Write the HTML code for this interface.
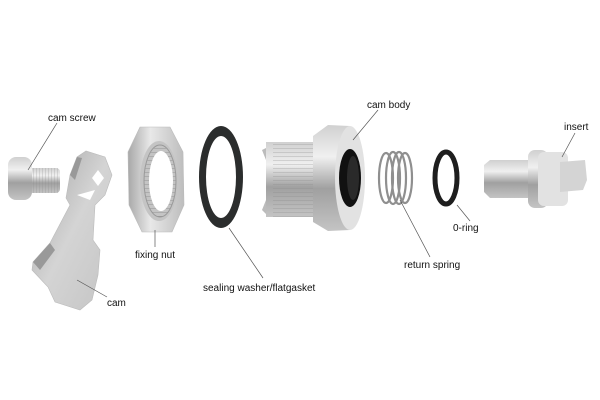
<!DOCTYPE html>
<html><head><style>
html,body{margin:0;padding:0;background:#fff;}
svg{display:block;}
text{font-family:"Liberation Sans",sans-serif;font-size:10px;fill:#111;}
</style></head><body>
<svg width="600" height="400" viewBox="0 0 600 400">
<defs>
<linearGradient id="m" x1="0" y1="0" x2="0" y2="1">
<stop offset="0" stop-color="#d0d0d0"/><stop offset="0.3" stop-color="#f0f0f0"/><stop offset="0.6" stop-color="#a0a0a0"/><stop offset="1" stop-color="#c4c4c4"/></linearGradient>
<linearGradient id="mh" x1="0" y1="0" x2="1" y2="0">
<stop offset="0" stop-color="#a8a8a8"/><stop offset="0.4" stop-color="#e8e8e8"/><stop offset="1" stop-color="#bdbdbd"/></linearGradient>
<linearGradient id="cam" x1="0" y1="0" x2="1" y2="1">
<stop offset="0" stop-color="#a0a0a0"/><stop offset="0.5" stop-color="#d4d4d4"/><stop offset="1" stop-color="#c4c4c4"/></linearGradient>
<pattern id="thr" width="3" height="4" patternUnits="userSpaceOnUse"><line x1="0" y1="0" x2="0" y2="4" stroke="#8a8a8a" stroke-width="0.8"/></pattern>
<pattern id="thh" width="4" height="4" patternUnits="userSpaceOnUse"><line x1="0" y1="0" x2="4" y2="0" stroke="#8a8a8a" stroke-width="0.8"/></pattern>
</defs>

<!-- cam screw -->
<rect x="22" y="168" width="38" height="25" rx="4" fill="url(#m)"/>
<rect x="28" y="168" width="30" height="25" fill="url(#thr)" opacity="0.6"/>
<rect x="8" y="157" width="24" height="43" rx="8" fill="url(#m)"/>

<!-- cam -->
<path d="M70,175 L77,157 L86,151 L105,157 L112,175 L105,195 L95,205 L93,240 L100,250 L98,275 L92,300 L80,310 L55,302 L48,287 L32,270 L33,262 L50,243 L70,205 L66,198 Z" fill="url(#cam)" stroke="#bbb" stroke-width="0.6"/>
<path d="M33,262 L50,243 L55,250 L40,270 Z" fill="#999"/>
<path d="M70,175 L77,157 L82,158 L75,180 Z" fill="#999"/>
<path d="M92,178 L98,170 L104,178 L98,186 Z" fill="#fff"/>
<path d="M77,195 L95,190 L90,200 Z" fill="#fff"/>

<!-- fixing nut -->
<path d="M140,127 L170,127 L183,152 L184,205 L172,232 L142,232 L129,205 L128,152 Z" fill="url(#mh)" stroke="#bbb" stroke-width="0.6"/>
<ellipse cx="159" cy="181" rx="19" ry="40" fill="#c4c4c4"/>
<ellipse cx="160" cy="181" rx="16" ry="36" fill="url(#thh)" stroke="#999"/>
<ellipse cx="161" cy="181" rx="12" ry="30" fill="#fff"/>

<!-- washer -->
<path fill-rule="evenodd" fill="#2b2d2d" d="M199,177 a22,51 0 1,0 44,0 a22,51 0 1,0 -44,0 Z M206,177 a15,41 0 1,0 30,0 a15,41 0 1,0 -30,0 Z"/>

<!-- cam body -->
<rect x="266" y="142" width="50" height="75" fill="url(#m)"/>
<rect x="273" y="142" width="42" height="75" fill="url(#thh)" opacity="0.7"/>
<path d="M266,148 L262,150 L266,160 Z M266,200 L262,210 L266,214 Z" fill="#bbb"/>
<path d="M313,136 L328,125 L350,126 L350,230 L328,231 L313,222 Z" fill="url(#m)"/>
<ellipse cx="350" cy="178" rx="15" ry="52" fill="#e2e2e2"/>
<ellipse cx="350" cy="178" rx="11" ry="29" fill="#111"/>
<ellipse cx="353" cy="178" rx="6" ry="22" fill="#444" opacity="0.5"/>

<!-- spring -->
<g fill="none" stroke="#8f8f8f" stroke-width="2.2">
<ellipse cx="386" cy="178" rx="7" ry="25"/>
<ellipse cx="393" cy="178" rx="7" ry="26"/>
<ellipse cx="399" cy="178" rx="7" ry="26"/>
<ellipse cx="405" cy="178" rx="7" ry="25"/>
</g>

<!-- o-ring -->
<ellipse cx="446" cy="178" rx="11" ry="26" fill="none" stroke="#1e1e1e" stroke-width="5"/>

<!-- insert -->
<path d="M484,165 L490,160 L535,160 L535,198 L490,198 L484,192 Z" fill="url(#m)"/>
<rect x="528" y="150" width="20" height="58" rx="7" fill="url(#m)"/>
<rect x="538" y="152" width="30" height="54" rx="6" fill="#e2e2e2"/>
<path d="M560,162 L585,160 L587,180 L583,190 L560,192 Z" fill="#d4d4d4"/>

<!-- leaders -->
<g stroke="#555" stroke-width="0.7">
<line x1="57" y1="123" x2="28" y2="170"/>
<line x1="77" y1="280" x2="107" y2="297"/>
<line x1="155" y1="230" x2="155" y2="247"/>
<line x1="229" y1="228" x2="263" y2="278"/>
<line x1="378" y1="110" x2="353" y2="140"/>
<line x1="400" y1="200" x2="430" y2="257"/>
<line x1="457" y1="205" x2="470" y2="221"/>
<line x1="575" y1="133" x2="562" y2="157"/>
</g>

<text x="48" y="121">cam screw</text>
<text x="107" y="306">cam</text>
<text x="135" y="258">fixing nut</text>
<text x="203" y="291">sealing washer/flatgasket</text>
<text x="367" y="108">cam body</text>
<text x="404" y="268">return spring</text>
<text x="453" y="231">0-ring</text>
<text x="564" y="130">insert</text>
</svg>
</body></html>
